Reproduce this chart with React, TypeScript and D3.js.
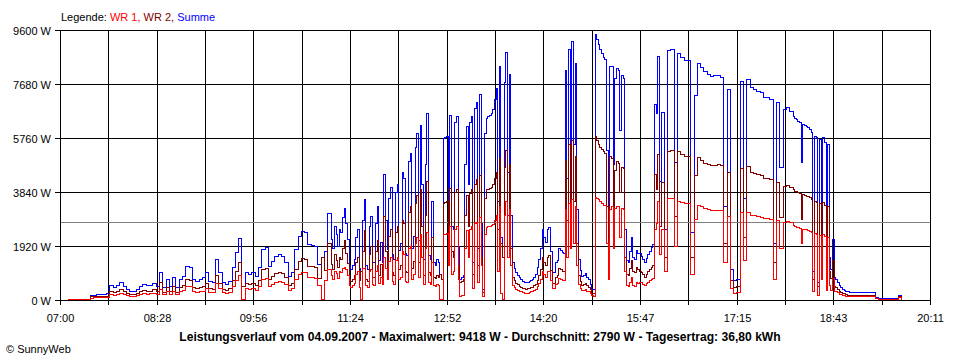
import * as d3 from "d3";

// Messwerte in Watt, eine Zeile = 1 Stunde.
// Ruhige Abschnitte alle 3 Minuten, wechselhafte Abschnitte alle 1,5 Minuten.
const morningStart = 7 * 60 + 6; // 07:06
const morningStep = 3;
const wr1Morning = [
  [0, 0, 0, 0, 0, 0, 0, 50, 60, 60, 70, 70, 80, 190, 160, 190, 230, 190, 140, 120],
  [120, 140, 180, 210, 190, 200, 230, 180, 360, 170, 280, 180, 300, 170, 280, 330, 470, 450, 280, 260],
  [280, 300, 380, 260, 240, 570, 380, 240, 210, 260, 450, 660, 860, 0, 380, 350, 390, 330, 450, 710],
  [740, 470, 540, 620, 640, 620, 520, 330, 380, 710, 900, 970, 950, 780, 770, 760, 500, 0, 690, 1050],
];
const wr2Morning = [
  [0, 0, 0, 0, 0, 0, 0, 90, 100, 110, 110, 110, 120, 290, 255, 290, 360, 285, 215, 180],
  [180, 220, 270, 320, 290, 300, 340, 270, 590, 250, 430, 270, 470, 250, 430, 500, 710, 680, 430, 390],
  [420, 470, 570, 390, 350, 850, 570, 350, 320, 390, 680, 1000, 1300, 450, 570, 540, 580, 500, 680, 1070],
  [1110, 710, 820, 920, 960, 920, 780, 500, 570, 1070, 1350, 1460, 1420, 1180, 1160, 1140, 750, 1500, 1030, 2000],
];

const middayStart = 11 * 60 + 6; // 11:06
const middayStep = 1.5;
const wr1Midday = [
  [870, 720, 1000, 920, 760, 1000, 950, 1100, 1150, 1050, 850, 480, 430, 480, 560, 880, 1000, 440, 0, 1100,
    1100, 480, 420, 1000, 1050, 520, 500, 1000, 1200, 560, 780, 520, 1500, 1100, 700, 1350, 1500, 640, 550, 1400],
  [1500, 700, 800, 1700, 1600, 650, 600, 1800, 1900, 700, 900, 2000, 2200, 800, 2300, 1500, 550, 1800, 2400, 600,
    550, 1300, 500, 450, 550, 500, 0, 0, 2300, 2320, 2330, 1200, 2600, 900, 1000, 2500, 2600, 700, 120, 150],
  [150, 1800, 2450, 1500, 2500, 2600, 400, 2700, 2750, 600, 2900, 1200, 100, 2300, 2550, 2580, 2600, 2620, 2650, 2800,
    3000, 1000, 3300, 200, 0, 3000, 3500, 1500, 3200, 1200, 500, 420, 370, 330, 300, 270, 250, 230, 220, 230],
  [250, 270, 280, 320, 350, 460, 560, 720, 990, 880, 800, 1000, 1000, 680, 380, 380, 520, 560, 730, 700,
    660, 660, 3200, 1500, 3400, 1800, 3550, 2000, 3300, 1200, 550, 400, 320, 330, 350, 300, 270, 200, 130, 120],
  [3640, 3600, 3560, 3480, 3400, 3350, 3330, 2000, 700, 3200, 3300, 1800, 3250, 3300, 3300, 2200, 3250, 3200, 1000, 500,
    450, 600, 800, 500, 450, 600, 560, 620, 590, 550, 500, 560, 620, 660, 700, 760, 2500, 2700, 3500, 1600],
];
const wr2Midday = [
  [1260, 1080, 1600, 1380, 1140, 1500, 1420, 1800, 2100, 1650, 1280, 720, 640, 720, 860, 1320, 1490, 660, 1000, 1700,
    2450, 720, 650, 1600, 1900, 780, 800, 1700, 2100, 840, 1240, 780, 2950, 1700, 1080, 2250, 2500, 960, 870, 2400],
  [2600, 1050, 1200, 2800, 2700, 1000, 950, 3100, 3300, 1100, 1350, 3400, 3700, 1300, 3900, 2600, 870, 3000, 4200, 950,
    870, 2200, 800, 750, 870, 800, 900, 700, 3420, 3450, 3480, 2000, 3950, 1700, 1490, 3800, 3900, 1200, 600, 650],
  [700, 3000, 3700, 2600, 3780, 3900, 900, 4100, 4250, 1200, 4400, 1500, 250, 3600, 3900, 3920, 3950, 4000, 4100, 4300,
    4500, 2500, 5000, 2000, 1500, 4700, 5300, 3000, 4800, 1800, 800, 680, 580, 520, 470, 430, 400, 380, 370, 380],
  [400, 410, 430, 480, 540, 690, 860, 1080, 1500, 1320, 1220, 1500, 1550, 1020, 570, 570, 780, 840, 1100, 1050,
    1000, 990, 4950, 2800, 5500, 3200, 5640, 3500, 5100, 2000, 870, 640, 510, 520, 560, 480, 440, 340, 230, 220],
  [5778, 5650, 5500, 5400, 5350, 5250, 5200, 3300, 1200, 5100, 5000, 3000, 4600, 4900, 4850, 3800, 4700, 4650, 1500, 900,
    850, 1100, 1400, 1000, 970, 1150, 1080, 1000, 950, 880, 800, 900, 980, 1060, 1140, 1200, 4450, 3900, 5150, 2600],
];

const afternoonStart = 16 * 60 + 6; // 16:06
const afternoonStep = 3;
const wr1Afternoon = [
  [2500, 1000, 3600, 3600, 1900, 3500, 3450, 3400, 3400, 900, 2850, 3350, 3300, 3250, 3200, 3180, 3170, 3180, 3150, 1300],
  [2950, 380, 230, 240, 3100, 1400, 3080, 3000, 2980, 2950, 2930, 2880, 2870, 2850, 700, 2820, 1800, 2750, 2760, 2730],
];
const wr2Afternoon = [
  [4150, 1500, 5250, 5300, 2960, 5250, 5150, 5100, 5100, 1500, 4400, 5050, 4950, 4850, 4800, 4760, 4780, 4800, 4750, 2000],
  [4520, 690, 440, 470, 4650, 2200, 4740, 4530, 4490, 4460, 4420, 4290, 4300, 4260, 1300, 4170, 2900, 4010, 4050, 3970],
];

const eveningStart = 18 * 60 + 6; // 18:06
const eveningStep = 1.5;
const wr1Evening = [
  [2620, 2600, 2570, 2550, 2520, 2000, 2500, 2490, 2480, 2450, 2430, 2380, 300, 2330, 2300, 150, 2280, 700, 2300, 2250,
    330, 2200, 500, 330, 750, 300, 280, 240, 190, 170, 140, 130, 120, 110, 100, 100, 100, 100, 100, 100],
];
const wr2Evening = [
  [3900, 3850, 3830, 3790, 3760, 2860, 3720, 3710, 3680, 3650, 3610, 3550, 700, 3470, 3450, 450, 3420, 1300, 3450, 3350,
    700, 3300, 1000, 740, 1380, 470, 420, 360, 290, 250, 220, 200, 180, 160, 150, 140, 140, 140, 140, 140],
];

const duskStart = 19 * 60 + 6; // 19:06
const duskStep = 3;
const wr1Dusk = [[100, 100, 100, 100, 100, 20, 10, 10, 10, 10, 10, 10, 60, 10]];
const wr2Dusk = [[140, 140, 140, 140, 140, 40, 15, 15, 15, 15, 15, 15, 100, 15]];

const yTicks = [0, 1920, 3840, 5760, 7680, 9600];
const xTickLabels = ["07:00", "08:28", "09:56", "11:24", "12:52", "14:20", "15:47", "17:15", "18:43", "20:11"];
const durchschnitt = 2790;

const legendItems = [
  { label: "WR 1,", color: "#ff0000" },
  { label: " WR 2,", color: "#800000" },
  { label: " Summe", color: "#0000ff" },
];

const titleText =
  "Leistungsverlauf vom 04.09.2007 - Maximalwert: 9418 W - Durchschnitt: 2790 W - Tagesertrag: 36,80 kWh";

const font = "'Liberation Sans', Arial, sans-serif";

type Point = { t: number; wr1: number; wr2: number; summe: number };

function toPoints(start: number, step: number, wr1Rows: number[][], wr2Rows: number[][]): Point[] {
  const a = wr1Rows.flat();
  const b = wr2Rows.flat();
  return a.map((v, i) => ({ t: start + i * step, wr1: v, wr2: b[i], summe: v + b[i] }));
}

export default function App() {
  const width = 960;
  const height = 360;

  const points = [
    ...toPoints(morningStart, morningStep, wr1Morning, wr2Morning),
    ...toPoints(middayStart, middayStep, wr1Midday, wr2Midday),
    ...toPoints(afternoonStart, afternoonStep, wr1Afternoon, wr2Afternoon),
    ...toPoints(eveningStart, eveningStep, wr1Evening, wr2Evening),
    ...toPoints(duskStart, duskStep, wr1Dusk, wr2Dusk),
  ];

  const x = d3.scaleLinear().domain([7 * 60, 20 * 60 + 11]).range([60.5, 930.5]);
  const y = d3.scaleLinear().domain([0, 9600]).range([300.5, 30.5]);

  const px = (v: number) => Math.floor(v) + 0.5;
  const gridTimes = d3.range(19).map((i) => 420 + (791 * i) / 18);

  const makeLine = (key: "wr1" | "wr2" | "summe") =>
    d3
      .line<Point>()
      .x((d) => px(x(d.t)))
      .y((d) => Math.floor(y(d[key])) - 0.5)
      .curve(d3.curveStepAfter)(points) || "";

  return (
    <svg
      width={width}
      height={height}
      style={{ position: "absolute", left: 0, top: 0, background: "#fff" }}
      fontFamily={font}
      fontSize={11}
    >
      <rect width={width} height={height} fill="#fff" />

      {/* Legende */}
      <text x={61} y={21} fill="#000">
        Legende:{" "}
        {legendItems.map((it) => (
          <tspan key={it.label} fill={it.color}>
            {it.label}
          </tspan>
        ))}
      </text>

      {/* Gitter horizontal + Y-Beschriftung */}
      {yTicks.map((v) => (
        <g key={v}>
          <line x1={55} x2={930.5} y1={px(y(v))} y2={px(y(v))} stroke="#000" shapeRendering="crispEdges" />
          <text x={51} y={px(y(v)) + 4} textAnchor="end" fill="#000">
            {v} W
          </text>
        </g>
      ))}

      {/* Gitter vertikal + X-Beschriftung */}
      {gridTimes.map((t, i) => (
        <g key={i}>
          <line x1={px(x(t))} x2={px(x(t))} y1={30} y2={305} stroke="#000" shapeRendering="crispEdges" />
          {i % 2 === 0 && (
            <text x={px(x(t))} y={322} textAnchor="middle" fill="#000">
              {xTickLabels[i / 2]}
            </text>
          )}
        </g>
      ))}

      {/* Durchschnitt */}
      <line
        x1={61}
        x2={930}
        y1={px(y(durchschnitt))}
        y2={px(y(durchschnitt))}
        stroke="#808080"
        shapeRendering="crispEdges"
      />

      <path d={makeLine("summe")} fill="none" stroke="#0000ff" strokeWidth={1} shapeRendering="crispEdges" />
      <path d={makeLine("wr2")} fill="none" stroke="#800000" strokeWidth={1} shapeRendering="crispEdges" />
      <path d={makeLine("wr1")} fill="none" stroke="#ff0000" strokeWidth={1} shapeRendering="crispEdges" />

      <text x={480} y={341} textAnchor="middle" fontWeight="bold" fontSize={12.1} fill="#000">
        {titleText}
      </text>
      <text x={6} y={353} fill="#000" fontSize={11}>
        © SunnyWeb
      </text>
    </svg>
  );
}
